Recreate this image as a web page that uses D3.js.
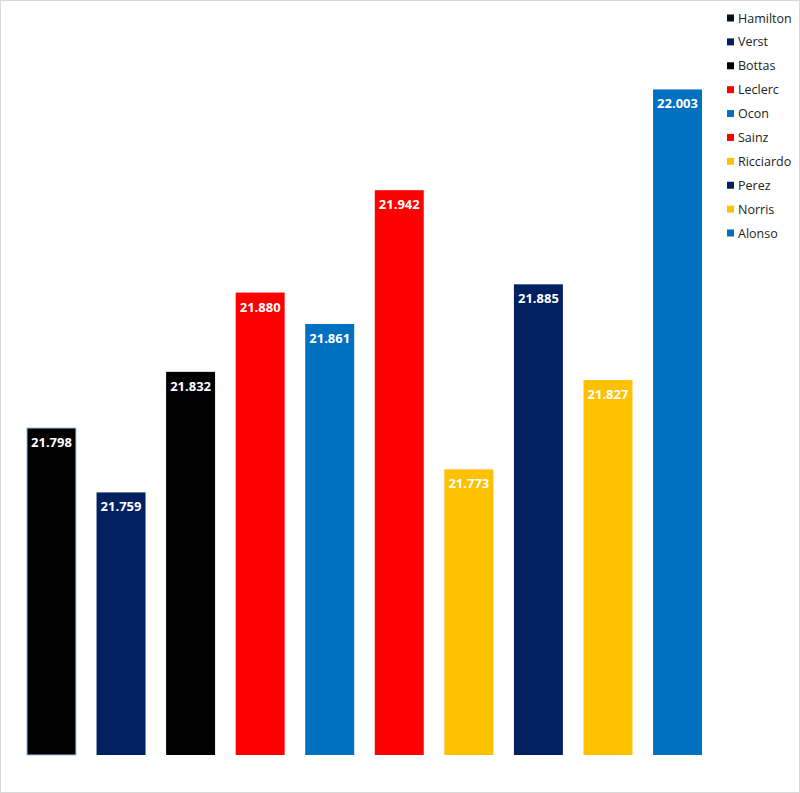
<!DOCTYPE html>
<html><head><meta charset="utf-8">
<script src="https://cdn.jsdelivr.net/npm/d3@7"></script>
<style>body{margin:0;background:#fff}svg{display:block}</style>
</head><body>
<script>
const drivers = ["Hamilton","Verst","Bottas","Leclerc","Ocon","Sainz","Ricciardo","Perez","Norris","Alonso"];
const times = [21.798,21.759,21.832,21.880,21.861,21.942,21.773,21.885,21.827,22.003];
const colors = ["#000000","#002060","#000000","#FF0000","#0070C0","#FF0000","#FFC000","#002060","#FFC000","#0070C0"];
const legendColors = ["#0a0f1e","#002060","#000000","#FF0000","#0070C0","#FF0000","#FFC000","#002060","#FFC000","#0070C0"];
const strokes = ["#9DC3E6",null,null,null,null,null,null,null,null,null];

const W=800,H=793;
const svg=d3.select("body").append("svg").attr("width",W).attr("height",H);
svg.append("rect").attr("x",0.5).attr("y",0.5).attr("width",W-1).attr("height",H-1)
  .attr("fill","#fff").attr("stroke","#d9d9d9");

const x=d3.scaleBand().domain(drivers).range([6.1,722.9]).paddingInner(0.296).paddingOuter(0.3);
const y=d3.scaleLinear().domain([21.6,22.0]).range([755,94.4]);

const g=svg.append("g");
g.selectAll("rect.bar").data(drivers).join("rect").attr("class","bar")
  .attr("x",d=>x(d)).attr("width",x.bandwidth())
  .attr("y",(d,i)=>y(times[i])).attr("height",(d,i)=>y(21.6)-y(times[i]))
  .attr("fill",(d,i)=>colors[i])
  .attr("stroke",(d,i)=>strokes[i]||"none").attr("stroke-width",1);

g.selectAll("text.lbl").data(drivers).join("text").attr("class","lbl")
  .attr("x",d=>x(d)+x.bandwidth()/2).attr("y",(d,i)=>y(times[i])+19)
  .attr("text-anchor","middle").attr("fill","#fff")
  .attr("font-family","'Open Sans', sans-serif").attr("font-weight","bold").attr("font-size","13px")
  .text((d,i)=>d3.format(".3f")(times[i]));

const leg=svg.append("g");
const ly=d3.scalePoint().domain(drivers).range([18,233]);
drivers.forEach((d,i)=>{
  leg.append("rect").attr("x",727).attr("y",ly(d)-3.5).attr("width",7).attr("height",7).attr("fill",legendColors[i]);
  leg.append("text").attr("x",738).attr("y",ly(d)+4.5).attr("font-family","'Open Sans', sans-serif")
    .attr("font-size","12.5px").attr("fill","#222").text(d);
});
</script>
</body></html>
